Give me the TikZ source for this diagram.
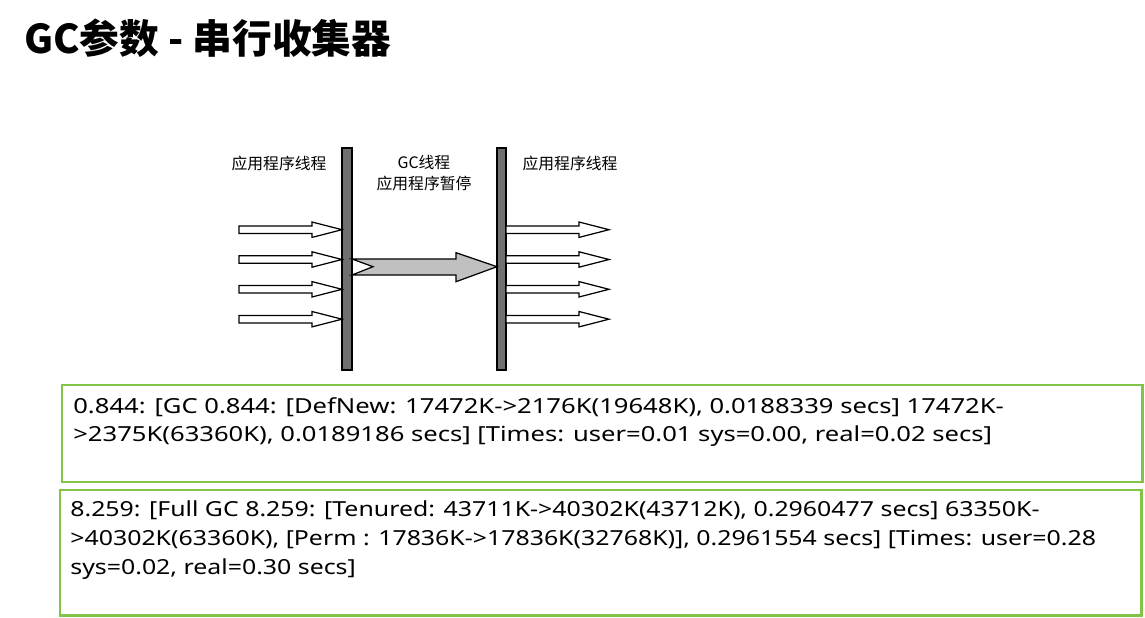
\documentclass[tikz,border=0pt]{standalone}
\usepackage{fontspec}
\setmainfont{Noto Sans}
\newfontfamily\logfont{Noto Sans}[FakeStretch=1.235]
\newfontfamily\logfontb{Noto Sans}[FakeStretch=1.2]
\newfontfamily\cjk{Noto Sans CJK SC}
\definecolor{boxgreen}{RGB}{128,196,72}
\definecolor{bargray}{RGB}{112,112,112}
\definecolor{arrgray}{RGB}{192,192,192}
\tikzset{
  barstyle/.style={draw=black, fill=bargray, line width=0.7pt},
  harrowstyle/.style={draw=black, fill=white, line width=0.7pt},
  bigarrowstyle/.style={draw=black, fill=arrgray, line width=0.7pt},
  logbox/.style={draw=boxgreen, line width=1.7pt},
  lbl/.style={font=\cjk\fontsize{9}{13}\selectfont, inner sep=0pt},
  logtext/.style={font=\logfont\fontsize{11.8}{16}\selectfont, align=left, inner sep=0pt, anchor=north west},
}
\newcommand\hollowarr[4]{%
  \draw[harrowstyle] (#1,#4-3.8) -- (#2,#4-3.8) -- (#2,#4-7.7) -- (#3,#4) -- (#2,#4+7.7) -- (#2,#4+3.8) -- (#1,#4+3.8) -- cycle;}
\begin{document}
\begin{tikzpicture}[x=0.02cm,y=-0.02cm]
\useasboundingbox (0,0) rectangle (1145,618);
% title
\node[anchor=west, inner sep=0pt, font=\cjk\bfseries\fontsize{22.6}{26}\selectfont] (title) at (24,38) {GC参数 - 串行收集器};
% bars
\draw[barstyle] (342,148) rectangle (352,370);
\coordinate (lbar) at (347,259);
\draw[barstyle] (497,148) rectangle (506,370);
\coordinate (rbar) at (501.5,259);
% labels
\node[lbl] (l1) at (279,163) {应用程序线程};
\node[lbl] (l2) at (570,163) {应用程序线程};
\node[lbl] (l3) at (424,162) {GC线程};
\node[lbl] (l4) at (424,183) {应用程序暂停};
% hollow arrows
\foreach \yy in {229.7,259.5,289.3,319.2}{\hollowarr{239}{312}{342}{\yy}}
\foreach \yy in {229.7,259.5,289.3,319.2}{\hollowarr{506}{579}{609}{\yy}}
% big arrow
\draw[bigarrowstyle] (352,259) -- (456,259) -- (456,252.7) -- (497,266.7) -- (456,281.7) -- (456,275) -- (352,275) -- (373,266.7) -- cycle;
% log boxes
\draw[logbox] (62,385) rectangle (1142,482);
\node[logtext] (t1) at (73,397) {0.844: [GC 0.844: [DefNew: 17472K->2176K(19648K), 0.0188339 secs] 17472K-\\>2375K(63360K), 0.0189186 secs] [Times: user=0.01 sys=0.00, real=0.02 secs]};
\draw[logbox] (60,490) rectangle (1141,615);
\node[logtext, font=\logfontb\fontsize{11.8}{16.5}\selectfont] (t2) at (70,500) {8.259: [Full GC 8.259: [Tenured: 43711K->40302K(43712K), 0.2960477 secs] 63350K-\\>40302K(63360K), [Perm : 17836K->17836K(32768K)], 0.2961554 secs] [Times: user=0.28\\sys=0.02, real=0.30 secs]};
\end{tikzpicture}
\end{document}
